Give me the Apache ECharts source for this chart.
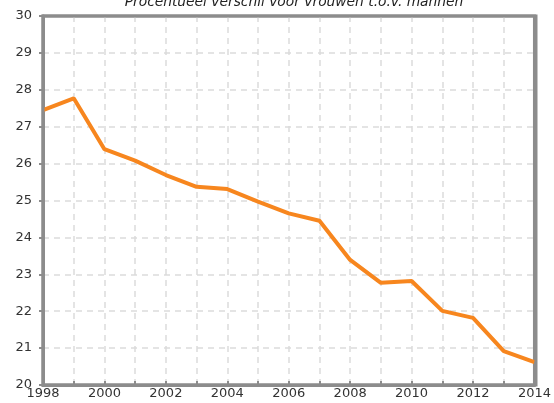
<!DOCTYPE html>
<html><head><meta charset="utf-8">
<script src="https://cdn.jsdelivr.net/npm/echarts@6/dist/echarts.min.js"></script>
<style>html,body{margin:0;padding:0;background:#fff}#c{width:554px;height:403px}</style>
</head><body><div id="c"></div>
<script>
const years = [1998,1999,2000,2001,2002,2003,2004,2005,2006,2007,2008,2009,2010,2011,2012,2013,2014];
const values = [27.45,27.77,26.39,26.08,25.69,25.37,25.31,24.97,24.65,24.45,23.39,22.77,22.82,22.01,21.82,20.92,20.62];
const yMin = 20, yMax = 30, xMin = 1998, xMax = 2014;
const titleText = "Procentueel verschil voor vrouwen t.o.v. mannen";

const G = {left:43, right:18, top:16, bottom:18};
const W = 554, H = 403;
const chart = echarts.init(document.getElementById('c'));
chart.setOption({
  animation:false,
  title:{text:titleText,left:289,textAlign:'center',top:-10,
    textStyle:{fontFamily:'DejaVu Sans',fontStyle:'italic',fontWeight:'normal',fontSize:13.8,color:'#222'}},
  grid:{left:G.left,right:G.right,top:G.top,bottom:G.bottom,show:true,borderColor:'#8c8c8c',borderWidth:3},
  graphic:[{type:'rect',z:100,silent:true,
    shape:{x:G.left,y:G.top,width:W-G.left-G.right,height:H-G.top-G.bottom},
    style:{fill:'none',stroke:'#8c8c8c',lineWidth:3}}],
  xAxis:{type:'value',min:xMin,max:xMax,interval:1,
    axisLine:{show:true,onZero:false,lineStyle:{color:'#8c8c8c',width:3}},
    axisTick:{show:true,inside:true,length:4,lineStyle:{color:'#8c8c8c',width:2}},
    axisLabel:{margin:2,color:'#333',fontFamily:'DejaVu Sans',fontSize:13,
      formatter:v=>(v%2===0?String(v):'')},
    splitLine:{show:true,showMinLine:false,showMaxLine:false,lineStyle:{color:'#dcdcdc',type:[6,5],width:1.5}}},
  yAxis:{type:'value',min:yMin,max:yMax,interval:1,
    axisLine:{show:true,onZero:false,lineStyle:{color:'#8c8c8c',width:3}},
    axisTick:{show:true,length:4,lineStyle:{color:'#8c8c8c',width:2}},
    axisLabel:{margin:11,color:'#333',fontFamily:'DejaVu Sans',fontSize:13},
    splitLine:{show:true,showMinLine:false,showMaxLine:false,lineStyle:{color:'#dcdcdc',type:[6,5],width:1.5}}},
  series:[{type:'line',data:years.map((y,i)=>[y,values[i]]),showSymbol:false,
    lineStyle:{color:'#f7861e',width:4},itemStyle:{color:'#f7861e'}}]
});
</script></body></html>
